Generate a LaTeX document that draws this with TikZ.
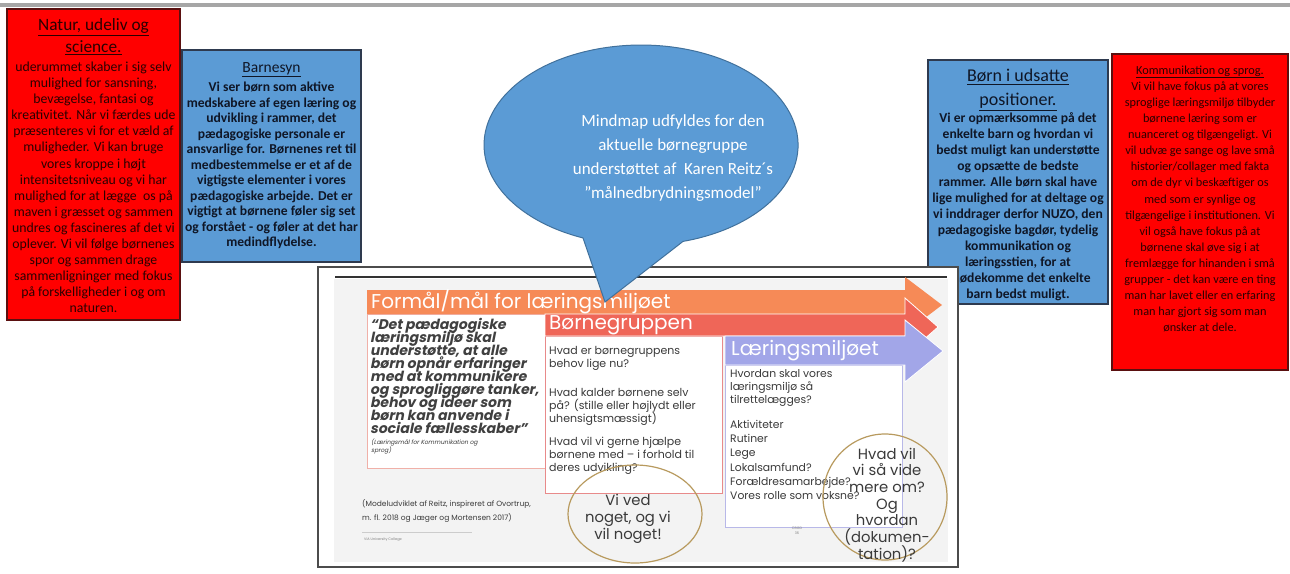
\documentclass[tikz,border=0pt]{standalone}
\usepackage{fontspec}
\setmainfont{Carlito}
\newfontfamily\pop{Poppins}
\newfontfamily\popq{Poppins}[FakeSlant=0.2]
\usetikzlibrary{shapes.geometric}
\newcommand\tightls{\lineskiplimit=-50pt\relax}
\definecolor{boxred}{HTML}{FF0000}
\definecolor{boxredline}{HTML}{5A1010}
\definecolor{boxblue}{HTML}{5B9BD5}
\definecolor{boxblueline}{HTML}{2E3A4F}
\definecolor{redtxt}{HTML}{2A0000}
\definecolor{bluetxt}{HTML}{0F1626}
\definecolor{orangebar}{HTML}{F68A57}
\definecolor{coralbar}{HTML}{EF6658}
\definecolor{lavbar}{HTML}{A2A6E8}
\definecolor{pinkline}{HTML}{F0B0A8}
\definecolor{redline}{HTML}{E88A8A}
\definecolor{lavline}{HTML}{B8B8E8}
\definecolor{shotgray}{HTML}{F3F3F3}
\definecolor{circline}{HTML}{B89A5E}
\definecolor{bubbleline}{HTML}{41719C}
\definecolor{shottxt}{HTML}{3A3A3A}
\tikzset{
  redbox/.style={draw=boxredline, line width=1.2pt, fill=boxred},
  bluebox/.style={draw=boxblueline, line width=1.2pt, fill=boxblue},
  boxtitle/.style={anchor=north, align=center, inner sep=0pt},
  boxbody/.style={anchor=north, align=center, inner sep=0pt, font=\fontsize{12.3}{16.07}\selectfont},
  bartext/.style={anchor=west, inner sep=0pt, text=white, font=\pop\fontsize{20}{20}\selectfont},
  shottext/.style={anchor=north west, align=left, inner sep=0pt, text=shottxt},
  circtext/.style={align=center, inner sep=0pt, text=shottxt, font=\pop\fontsize{14.8}{16.7}\selectfont\tightls},
  circ/.style={draw=circline, line width=1.2pt}
}
\begin{document}
\begin{tikzpicture}[x=1pt,y=-1pt]
\useasboundingbox (0,0) rectangle (1290,573);
\fill[white] (0,0) rectangle (1290,573);
% top rule
\draw[line width=3.5pt, gray!70] (0,5) -- (1290,5);

% left red box
\draw[redbox] (7,9) rectangle (180,320);
\node[boxtitle, text=redtxt, font=\fontsize{17.3}{22}\selectfont] (natT) at (93.5,18.5)
  {\underline{Natur, udeliv og}\\\underline{science.}};
\node[boxbody, text=redtxt, font=\fontsize{13.8}{16.07}\selectfont] (natB) at (93.5,61.8)
  {uderummet skaber i sig selv\\mulighed for sansning,\\bevægelse, fantasi og\\kreativitet. Når vi færdes ude\\præsenteres vi for et væld af\\muligheder. Vi kan bruge\\vores kroppe i højt\\intensitetsniveau og vi har\\mulighed for at lægge\ \ os på\\maven i græsset og sammen\\undres og fascineres af det vi\\oplever. Vi vil følge børnenes\\spor og sammen drage\\sammenligninger med fokus\\på forskelligheder i og om\\naturen.};

% Barnesyn
\draw[bluebox] (182,50) rectangle (361,262);
\node[boxtitle, text=bluetxt, font=\fontsize{15.5}{20}\selectfont] (barT) at (271.5,62)
  {\underline{Barnesyn}};
\node[boxbody, text=bluetxt, font=\bfseries\fontsize{13.6}{15.5}\selectfont] (barB) at (271.5,81.8)
  {Vi ser børn som aktive\\medskabere af egen læring og\\udvikling i rammer, det\\pædagogiske personale er\\ansvarlige for. Børnenes ret til\\medbestemmelse er et af de\\vigtigste elementer i vores\\pædagogiske arbejde. Det er\\vigtigt at børnene føler sig set\\og forstået - og føler at det har\\medindflydelse.};

% Børn i udsatte positioner
\draw[bluebox] (928,60) rectangle (1108,304);
\node[boxtitle, text=bluetxt, font=\fontsize{18}{24}\selectfont] (udsT) at (1018,69)
  {\underline{Børn i udsatte}\\\underline{positioner.}};
\node[boxbody, text=bluetxt, font=\bfseries\fontsize{13.6}{16}\selectfont] (udsB) at (1018,112.8)
  {Vi er opmærksomme på det\\enkelte barn og hvordan vi\\bedst muligt kan understøtte\\og opsætte de bedste\\rammer. Alle børn skal have\\lige mulighed for at deltage og\\vi inddrager derfor NUZO, den\\pædagogiske bagdør, tydelig\\kommunikation og\\læringsstien, for at\\imødekomme det enkelte\\barn bedst muligt.};

% Kommunikation og sprog
\draw[redbox] (1112,54) rectangle (1288,370);
\node[boxbody, text=redtxt, font=\fontsize{12.3}{16.12}\selectfont] (komB) at (1200,65.3)
  {\underline{Kommunikation og sprog.}\\Vi vil have fokus på at vores\\sproglige læringsmiljø tilbyder\\børnene læring som er\\nuanceret og tilgængeligt. Vi\\vil udvæ ge sange og lave små\\historier/collager med fakta\\om de dyr vi beskæftiger os\\med som er synlige og\\tilgængelige i institutionen. Vi\\vil også have fokus på at\\børnene skal øve sig i at\\fremlægge for hinanden i små\\grupper - det kan være en ting\\man har lavet eller en erfaring\\man har gjort sig som man\\ønsker at dele.};

% screenshot frame
\draw[draw=black!70, line width=1.5pt, fill=white] (318,267) rectangle (958,567);
\fill[shotgray] (334,279) rectangle (948,562);
\draw[line width=1.3pt, black!80] (335,277) -- (947,277);

% white boxes
\draw[draw=pinkline, line width=1pt, fill=white] (367,314) rectangle (545,468);
\draw[draw=redline, line width=1pt, fill=white] (545,336) rectangle (722,493);
\draw[draw=lavline, line width=1pt, fill=white] (725,365) rectangle (902,527);

% arrows
\fill[orangebar] (367,290) -- (905,290) -- (905,277) -- (942,305) -- (905,333) -- (905,314) -- (367,314) -- cycle;
\filldraw[fill=coralbar, draw=white, line width=0.8pt] (545,314) -- (905,314) -- (905,298) -- (938,327) -- (905,356) -- (905,336) -- (545,336) -- cycle;
\filldraw[fill=lavbar, draw=white, line width=0.8pt] (725,336) -- (905,336) -- (905,320) -- (943,351) -- (905,382) -- (905,365) -- (725,365) -- cycle;
\node[bartext] (h1) at (371,302) {Formål/mål for læringsmiljøet};
\node[bartext] (h2) at (549,325.5) {Børnegruppen};
\node[bartext] (h3) at (731,351) {Læringsmiljøet};

% quote
\node[shottext, font=\popq\bfseries\fontsize{14}{13}\selectfont\tightls, text=black!75] (quote) at (370,318.5)
  {“Det pædagogiske\\læringsmiljø skal\\understøtte, at alle\\børn opnår erfaringer\\med at kommunikere\\og sprogliggøre tanker,\\behov og ideer som\\børn kan anvende i\\sociale fællesskaber”};
\node[shottext, font=\popq\fontsize{6}{8}\selectfont\tightls] (src) at (371,438.5)
  {(Læringsmål for Kommunikation og\\sprog)};

% Børnegruppen questions
\node[shottext, font=\pop\fontsize{11}{13.1}\selectfont\tightls] (q1) at (549,346)
  {Hvad er børnegruppens\\behov lige nu?};
\node[shottext, font=\pop\fontsize{11}{13.1}\selectfont\tightls] (q2) at (549,388)
  {Hvad kalder børnene selv\\på? (stille eller højlydt eller\\uhensigtsmæssigt)};
\node[shottext, font=\pop\fontsize{11}{13.1}\selectfont\tightls] (q3) at (549,437)
  {Hvad vil vi gerne hjælpe\\børnene med – i forhold til\\deres udvikling?};

% Læringsmiljøet questions
\node[shottext, font=\pop\fontsize{10.8}{13.1}\selectfont\tightls] (r1) at (730,369)
  {Hvordan skal vores\\læringsmiljø så\\tilrettelægges?};
\node[shottext, font=\pop\fontsize{10.8}{14.2}\selectfont\tightls] (r2) at (730,420)
  {Aktiviteter\\Rutiner\\Lege\\Lokalsamfund?\\Forældresamarbejde?\\Vores rolle som voksne?};

% footnotes
\node[shottext, font=\pop\fontsize{7.5}{14}\selectfont] (model) at (362,499)
  {(Modeludviklet af Reitz, inspireret af Ovortrup,\\m. fl. 2018 og Jæger og Mortensen 2017)};
\draw[gray!40, line width=0.4pt] (362,532) -- (472,532);
\node[shottext, font=\pop\fontsize{3.5}{4}\selectfont, text=gray] (via) at (364,538) {VIA University College};
\node[align=center, inner sep=0pt, font=\pop\fontsize{3.5}{4.5}\selectfont, text=gray] (cbgd) at (797,531) {CBGD\\36};

% circles
\draw[circ] (635,514) ellipse [x radius=67, y radius=49];
\node[circtext] (viv) at (628,519) {Vi ved\\noget, og vi\\vil noget!};
\draw[circ] (885,497) ellipse [x radius=62, y radius=63];
\node[circtext] (hvad) at (887,505) {Hvad vil\\vi så vide\\mere om?\\Og\\hvordan\\(dokumen-\\tation)?};

% speech bubble
\filldraw[fill=boxblue, draw=bubbleline, line width=1pt]
  (683,241.4) arc[start angle=74.5, end angle=-248.3, x radius=157, y radius=100] -- (605,302) -- cycle;
\node[align=center, inner sep=0pt, text=white, font=\fontsize{17}{24}\selectfont] (bubble) at (673,157.6)
  {Mindmap udfyldes for den\\aktuelle børnegruppe\\understøttet af\ \ Karen Reitz´s\\”målnedbrydningsmodel”};
\end{tikzpicture}
\end{document}
